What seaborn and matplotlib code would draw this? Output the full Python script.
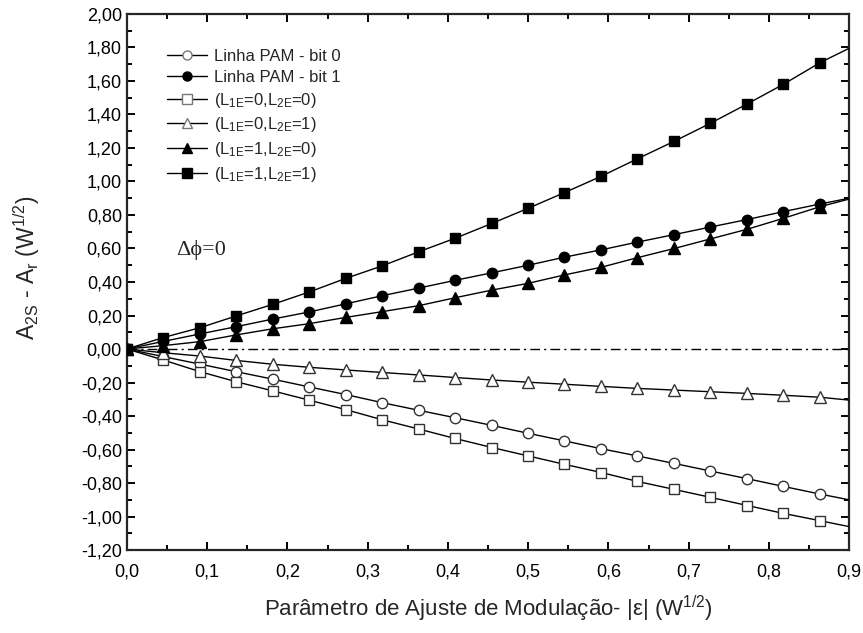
import matplotlib
matplotlib.use("Agg")
import matplotlib.pyplot as plt
import matplotlib.ticker as mticker
from matplotlib.lines import Line2D
import seaborn as sns

# x positions of the computed points (last one is line end only)
eps = [0.0, 0.045, 0.091, 0.136, 0.182, 0.227, 0.273, 0.318, 0.364, 0.409,
       0.455, 0.5, 0.545, 0.591, 0.636, 0.682, 0.727, 0.773, 0.818, 0.864, 0.9]

pam_bit0 = [0.0, -0.045, -0.09, -0.135, -0.18, -0.226, -0.272, -0.32, -0.366, -0.41,
            -0.456, -0.503, -0.548, -0.595, -0.638, -0.683, -0.728, -0.774, -0.82, -0.866, -0.9]
pam_bit1 = [0.0, 0.045, 0.09, 0.133, 0.179, 0.221, 0.27, 0.318, 0.364, 0.41,
            0.455, 0.5, 0.548, 0.592, 0.638, 0.683, 0.728, 0.773, 0.82, 0.866, 0.9]
l00 = [0.0, -0.065, -0.135, -0.195, -0.25, -0.305, -0.362, -0.422, -0.478, -0.534,
       -0.588, -0.638, -0.688, -0.737, -0.79, -0.838, -0.885, -0.934, -0.981, -1.025, -1.06]
l01 = [0.0, -0.022, -0.042, -0.068, -0.091, -0.109, -0.125, -0.14, -0.155, -0.17,
       -0.185, -0.198, -0.21, -0.223, -0.235, -0.245, -0.255, -0.265, -0.276, -0.288, -0.305]
l10 = [0.0, 0.02, 0.044, 0.084, 0.121, 0.151, 0.189, 0.223, 0.259, 0.306,
       0.352, 0.392, 0.442, 0.488, 0.545, 0.6, 0.657, 0.715, 0.78, 0.85, 0.895]
l11 = [0.0, 0.068, 0.127, 0.197, 0.267, 0.34, 0.422, 0.496, 0.581, 0.661,
       0.75, 0.84, 0.933, 1.031, 1.135, 1.24, 1.347, 1.463, 1.58, 1.71, 1.795]

labels = ["Linha PAM - bit 0", "Linha PAM - bit 1",
          r"(L$_{\mathrm{1E}}$=0,L$_{\mathrm{2E}}$=0)",
          r"(L$_{\mathrm{1E}}$=0,L$_{\mathrm{2E}}$=1)",
          r"(L$_{\mathrm{1E}}$=1,L$_{\mathrm{2E}}$=0)",
          r"(L$_{\mathrm{1E}}$=1,L$_{\mathrm{2E}}$=1)"]

sns.set_style("ticks")
plt.rcParams.update({
    "font.family": ["Liberation Sans", "DejaVu Sans"],
    "mathtext.fontset": "custom",
    "mathtext.rm": "Liberation Sans",
    "mathtext.it": "Liberation Sans:italic",
    "mathtext.bf": "Liberation Sans:bold",
    "axes.linewidth": 1.6,
})

fig = plt.figure(figsize=(8.63, 6.33), dpi=100)
ax = fig.add_axes([0.147, 0.131, 0.837, 0.847])

ax.axhline(0, color="black", lw=1.0, ls=(0, (7, 3, 1.5, 3)), zorder=1)

series = [
    (pam_bit0, "o", "white", "#333333"),
    (pam_bit1, "o", "black", "black"),
    (l00, "s", "white", "#333333"),
    (l01, "^", "white", "#333333"),
    (l10, "^", "black", "black"),
    (l11, "s", "black", "black"),
]
mark_idx = list(range(len(eps) - 1))
handles = []
for (ys, mk, fc, ec), lab in zip(series, labels):
    ms = 8.5 if mk == "^" else 7.5
    sns.lineplot(x=eps, y=ys, ax=ax, color="black", lw=1.0, marker=mk,
                 markersize=ms, markerfacecolor=fc, markeredgecolor=ec,
                 markeredgewidth=1.0, markevery=mark_idx, zorder=3)
    handles.append(Line2D([], [], color="black", lw=1.0, marker=mk,
                          markersize=ms - 1, markerfacecolor=fc,
                          markeredgecolor="#777777" if fc == "white" else "black",
                          markeredgewidth=1.0, label=lab))

ax.set_xlim(0, 0.9)
ax.set_ylim(-1.2, 2.0)
ax.xaxis.set_major_locator(mticker.MultipleLocator(0.1))
ax.xaxis.set_minor_locator(mticker.MultipleLocator(0.05))
ax.yaxis.set_major_locator(mticker.MultipleLocator(0.2))
ax.yaxis.set_minor_locator(mticker.MultipleLocator(0.1))
ax.xaxis.set_major_formatter(mticker.FuncFormatter(lambda v, p: f"{v:.1f}".replace(".", ",")))
ax.yaxis.set_major_formatter(mticker.FuncFormatter(
    lambda v, p: f"{v:.2f}".replace(".", ",").replace("-0,00", "0,00")))
ax.tick_params(which="both", direction="in", top=True, right=True, width=1.4,
               labelsize=13, colors="black")
ax.tick_params(which="major", length=6)
ax.tick_params(which="minor", length=3.5)
ax.tick_params(axis="x", which="major", pad=10)

ax.set_xlabel(r"Parâmetro de Ajuste de Modulação- |ε| (W$^{\mathrm{1/2}}$)",
              fontsize=16)
ax.xaxis.set_label_coords(0.5, -0.082)
ax.set_ylabel(r"A$_{\mathrm{2S}}$ - A$_{\mathrm{r}}$ (W$^{\mathrm{1/2}}$)", fontsize=16.5)
ax.yaxis.set_label_coords(-0.118, 0.526)

ax.text(0.092, 0.59, "Δϕ=0", family=["Liberation Serif", "DejaVu Serif"],
        fontsize=16, ha="center", va="center")

ax.legend(handles=handles, loc="upper left", bbox_to_anchor=(0.035, 0.962),
          frameon=False, fontsize=12, handlelength=2.4, labelspacing=0.34,
          handletextpad=0.4, numpoints=1)

fig.savefig("out.png", dpi=100)
